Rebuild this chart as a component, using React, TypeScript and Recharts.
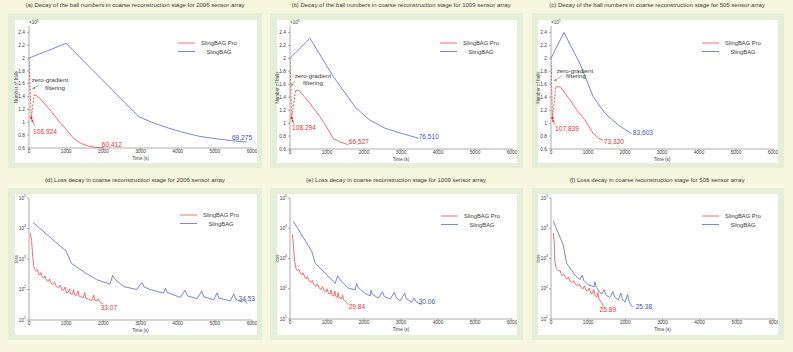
import { LineChart, Line, XAxis, YAxis, ReferenceDot, ReferenceLine } from 'recharts';

const W = 793;
const H = 352;
const FONT = '"Liberation Sans", Arial, Helvetica, sans-serif';
const BG = '#f7f7df';
const GREEN = '#e5eed7';
const RED = '#f15d5d';
const BLUE = '#6a7bc8';
const RED_TXT = '#e9343b';
const BLUE_TXT = '#4858a8';
const ARROW = '#a08866';
const AXIS = '#777';
const INK = '#3a3a3a';

const timeTicks = [0, 1000, 2000, 3000, 4000, 5000, 6000];
const ballTicks = [0.6, 0.8, 1, 1.2, 1.4, 1.6, 1.8, 2, 2.2, 2.4];
const lossTicks = [10, 100, 1000, 10000, 100000];

// ---- number of balls (x1e5) ----
// 2006 sensor array
const aInitT = [0, 60, 140];
const aInitV = [2.0, 1.07, 1.43];
const aProT = [140, 250, 400, 600, 800, 1000, 1200, 1400, 1600, 1800, 2000];
const aProV = [1.43, 1.4, 1.3, 1.17, 1.02, 0.89, 0.75, 0.67, 0.63, 0.61, 0.604];
const aBagT = [0, 1000, 2950, 3300, 3700, 4100, 4600, 5100, 5500, 5850];
const aBagV = [2.0, 2.23, 1.09, 1.0, 0.92, 0.85, 0.78, 0.74, 0.71, 0.693];

// 1009 sensor array
const bInitT = [0, 45, 150];
const bInitV = [2.0, 1.08, 1.5];
const bProT = [150, 230, 400, 600, 800, 1000, 1170, 1350, 1580];
const bProV = [1.5, 1.51, 1.4, 1.26, 1.11, 0.93, 0.76, 0.71, 0.665];
const bBagT = [0, 540, 1170, 1760, 2120, 2570, 3020, 3480];
const bBagV = [2.0, 2.31, 1.72, 1.25, 1.06, 0.92, 0.84, 0.765];

// 505 sensor array
const cInitT = [0, 40, 130];
const cInitV = [2.0, 1.08, 1.56];
const cProT = [130, 250, 500, 700, 900, 1000, 1140, 1280, 1410];
const cProV = [1.56, 1.56, 1.37, 1.2, 1.06, 0.97, 0.84, 0.77, 0.733];
const cBagT = [0, 350, 780, 1140, 1460, 1820, 2180];
const cBagV = [2.0, 2.4, 1.92, 1.41, 1.15, 0.97, 0.836];

// ---- loss ----
const dProT = [36, 70, 100, 130, 170, 200, 230, 260, 290, 320, 350, 400, 430, 470, 520, 550, 600, 650, 690, 740, 800, 840, 880, 930, 970, 1010, 1050, 1090, 1120, 1170, 1200, 1230, 1280, 1320, 1350, 1420, 1460, 1500, 1530, 1600, 1650, 1700, 1740, 1770, 1830, 1860, 1900, 1950, 2000];
const dProV = [7000, 4000, 1200, 560, 420, 390, 450, 330, 300, 360, 260, 240, 280, 200, 185, 220, 160, 145, 170, 125, 115, 140, 100, 95, 120, 80, 78, 105, 72, 70, 98, 66, 64, 90, 60, 56, 54, 80, 52, 48, 46, 44, 65, 45, 42, 50, 40, 36, 33.07];
const dBagT = [108, 1000, 1140, 1460, 1820, 2180, 2250, 2300, 2540, 2900, 3040, 3100, 3260, 3620, 3670, 3720, 4070, 4200, 4260, 4520, 4650, 4700, 4970, 5060, 5110, 5420, 5510, 5560, 5700, 5800, 5870];
const dBagV = [15800, 1800, 720, 390, 210, 150, 290, 230, 125, 100, 170, 120, 100, 76, 110, 80, 55, 95, 62, 50, 88, 58, 46, 78, 52, 42, 72, 48, 40, 44, 34.53];

const eProT = [63, 90, 120, 160, 200, 240, 280, 320, 350, 400, 440, 470, 520, 570, 600, 650, 700, 740, 790, 840, 880, 920, 970, 1000, 1040, 1080, 1110, 1140, 1180, 1210, 1240, 1280, 1300, 1330, 1390, 1420, 1450, 1500, 1550, 1580];
const eProV = [6300, 3000, 900, 480, 400, 440, 330, 290, 340, 240, 210, 250, 180, 160, 190, 135, 120, 145, 105, 95, 118, 85, 78, 100, 70, 66, 92, 60, 58, 85, 55, 52, 75, 50, 46, 62, 44, 38, 32, 29.84];
const eBagT = [90, 590, 680, 950, 1220, 1290, 1350, 1580, 1760, 1800, 1850, 2030, 2170, 2190, 2230, 2390, 2500, 2550, 2710, 2820, 2870, 2980, 3100, 3140, 3290, 3360, 3400, 3520, 3560];
const eBagV = [17000, 1700, 700, 325, 150, 270, 200, 104, 92, 150, 105, 71, 58, 92, 65, 49, 80, 55, 46, 76, 52, 40, 71, 48, 36, 50, 38, 31, 30.06];

const fProT = [63, 85, 100, 130, 170, 210, 240, 280, 320, 350, 400, 440, 470, 520, 570, 610, 660, 720, 760, 810, 860, 900, 940, 990, 1030, 1070, 1110, 1150, 1190, 1230, 1260, 1290, 1340, 1380, 1420];
const fProV = [6900, 4000, 900, 520, 430, 380, 420, 300, 270, 300, 230, 210, 240, 175, 160, 185, 140, 125, 145, 110, 100, 125, 90, 84, 105, 72, 68, 95, 58, 52, 75, 46, 38, 32, 25.89];
const fBagT = [63, 330, 420, 640, 780, 840, 880, 1000, 1160, 1180, 1220, 1360, 1430, 1470, 1580, 1670, 1710, 1810, 1880, 1920, 1990, 2060, 2100, 2170, 2200];
const fBagV = [17000, 2800, 700, 290, 200, 280, 190, 135, 117, 170, 110, 66, 92, 64, 51, 81, 54, 43, 71, 46, 36, 65, 38, 27, 25.38];

const pts = (t: number[], v: number[]) => t.map((x, i) => ({ t: x, v: v[i] }));

const textShape = (text: string, color: string, size: number) => (p: any) => (
  <text x={p.cx} y={p.cy} textAnchor="middle" dominantBaseline="central" fontSize={size} fill={color} fontFamily={FONT}>
    {text}
  </text>
);

const arrowShape = (color: string) => (p: any) => {
  const { x1, y1, x2, y2 } = p;
  const a = Math.atan2(y2 - y1, x2 - x1);
  const s = 3;
  const l = [x2 - s * Math.cos(a - 0.45), y2 - s * Math.sin(a - 0.45)];
  const r = [x2 - s * Math.cos(a + 0.45), y2 - s * Math.sin(a + 0.45)];
  return (
    <g>
      <line x1={x1} y1={y1} x2={x2} y2={y2} stroke={color} strokeWidth={0.7} />
      <path d={`M${x2},${y2}L${l[0]},${l[1]}L${r[0]},${r[1]}Z`} fill={color} />
    </g>
  );
};

const LogTick = (p: any) => {
  const e = Math.round(Math.log10(p.payload.value));
  return (
    <text x={p.x} y={p.y} textAnchor="end" dominantBaseline="central" fontSize={4.8} fill={INK} fontFamily={FONT}>
      10<tspan dy={-2.2} fontSize={3.4}>{e}</tspan>
    </text>
  );
};

const topG = { y: 13, h: 155 };
const topW = { y: 20, h: 143 };
const botG = { y: 188, h: 152 };
const botW = { y: 194, h: 141 };

const panels = [
  {
    title: '(a) Decay of the ball numbers in coarse reconstruction stage for 2006 sensor array',
    kind: 'balls', titleX: 135,
    green: { x: 8, w: 254, ...topG }, white: { x: 15, w: 242, ...topW }, plot: { l: 29, r: 252, t: 26, b: 148 },
    init: pts(aInitT, aInitV), pro: pts(aProT, aProV), bag: pts(aBagT, aBagV),
    legend: { x: 178, y: 43 }, dot: { x: 60, y: 1.07 },
    notes: [
      { x: 565, y: 1.66, text: 'zero-gradient', color: INK },
      { x: 700, y: 1.55, text: 'filtering', color: INK },
      { x: 430, y: 0.85, text: '106,924', color: RED_TXT },
      { x: 2230, y: 0.66, text: '60,412', color: RED_TXT },
      { x: 5730, y: 0.757, text: '69,275', color: BLUE_TXT },
    ],
    arrows: [
      { from: { x: 269, y: 1.58 }, to: { x: 90, y: 1.52 }, color: ARROW },
      { from: { x: 150, y: 0.95 }, to: { x: 70, y: 1.05 }, color: RED_TXT },
    ],
  },
  {
    title: '(b) Decay of the ball numbers in coarse reconstruction stage for 1009 sensor array',
    kind: 'balls', titleX: 401,
    green: { x: 270, w: 253, ...topG }, white: { x: 277, w: 240, ...topW }, plot: { l: 290, r: 512, t: 26, b: 149 },
    init: pts(bInitT, bInitV), pro: pts(bProT, bProV), bag: pts(bBagT, bBagV),
    legend: { x: 440, y: 43 }, dot: { x: 45, y: 1.08 },
    notes: [
      { x: 620, y: 1.73, text: 'zero-gradient', color: INK },
      { x: 620, y: 1.62, text: 'filtering', color: INK },
      { x: 378, y: 0.93, text: '108,294', color: RED_TXT },
      { x: 1863, y: 0.72, text: '66,527', color: RED_TXT },
      { x: 3750, y: 0.79, text: '76,510', color: BLUE_TXT },
    ],
    arrows: [
      { from: { x: 135, y: 1.65 }, to: { x: 27, y: 1.57 }, color: ARROW },
      { from: { x: 110, y: 0.98 }, to: { x: 50, y: 1.06 }, color: RED_TXT },
    ],
  },
  {
    title: '(c) Decay of the ball numbers in coarse reconstruction stage for 505 sensor array',
    kind: 'balls', titleX: 657,
    green: { x: 532, w: 252, ...topG }, white: { x: 538, w: 240, ...topW }, plot: { l: 551, r: 773, t: 26, b: 149 },
    init: pts(cInitT, cInitV), pro: pts(cProT, cProV), bag: pts(cBagT, cBagV),
    legend: { x: 702, y: 43 }, dot: { x: 40, y: 1.08 },
    notes: [
      { x: 648, y: 1.82, text: 'zero-gradient', color: INK },
      { x: 675, y: 1.73, text: 'filtering', color: INK },
      { x: 432, y: 0.91, text: '107,839', color: RED_TXT },
      { x: 1700, y: 0.71, text: '73,320', color: RED_TXT },
      { x: 2484, y: 0.85, text: '83,603', color: BLUE_TXT },
    ],
    arrows: [
      { from: { x: 297, y: 1.73 }, to: { x: 81, y: 1.65 }, color: ARROW },
      { from: { x: 100, y: 0.98 }, to: { x: 40, y: 1.06 }, color: RED_TXT },
    ],
  },
  {
    title: '(d) Loss decay in coarse reconstruction stage for 2006 sensor array',
    kind: 'loss', titleX: 135,
    green: { x: 8, w: 254, ...botG }, white: { x: 15, w: 242, ...botW }, plot: { l: 29, r: 252, t: 198, b: 320 },
    pro: pts(dProT, dProV), bag: pts(dBagT, dBagV),
    legend: { x: 180, y: 215 },
    notes: [
      { x: 2150, y: 25, text: '33.07', color: RED_TXT },
      { x: 5860, y: 50, text: '34.53', color: BLUE_TXT },
    ],
    arrows: [],
  },
  {
    title: '(e) Loss decay in coarse reconstruction stage for 1009 sensor array',
    kind: 'loss', titleX: 396,
    green: { x: 270, w: 253, ...botG }, white: { x: 277, w: 240, ...botW }, plot: { l: 290, r: 512, t: 198, b: 319 },
    pro: pts(eProT, eProV), bag: pts(eBagT, eBagV),
    legend: { x: 441, y: 216 },
    notes: [
      { x: 1810, y: 25, text: '29.84', color: RED_TXT },
      { x: 3700, y: 37, text: '30.06', color: BLUE_TXT },
    ],
    arrows: [],
  },
  {
    title: '(f) Loss decay in coarse reconstruction stage for 505 sensor array',
    kind: 'loss', titleX: 657,
    green: { x: 532, w: 252, ...botG }, white: { x: 538, w: 240, ...botW }, plot: { l: 551, r: 774, t: 198, b: 319 },
    pro: pts(fProT, fProV), bag: pts(fBagT, fBagV),
    legend: { x: 702, y: 216 },
    notes: [
      { x: 1530, y: 20, text: '25.89', color: RED_TXT },
      { x: 2500, y: 25, text: '25.38', color: BLUE_TXT },
    ],
    arrows: [],
  },
];

function Panel({ cfg }: { cfg: any }) {
  const { green, white, plot, legend } = cfg;
  const isLoss = cfg.kind === 'loss';
  const margin = { top: plot.t - white.y, right: white.x + white.w - plot.r, left: 0, bottom: 0 };
  const yW = plot.l - white.x;
  const xH = white.y + white.h - plot.b;
  const tickStyle = { fontSize: 4.8, fill: INK, fontFamily: FONT };
  const midY = (plot.t + plot.b) / 2;
  return (
    <>
      <div style={{ position: 'absolute', left: green.x, top: green.y, width: green.w, height: green.h, background: GREEN }} />
      <div style={{ position: 'absolute', left: white.x, top: white.y, width: white.w, height: white.h, background: '#fff' }}>
        <LineChart width={white.w} height={white.h} margin={margin}>
          <XAxis
            type="number"
            dataKey="t"
            domain={[0, 6000]}
            ticks={timeTicks}
            interval={0}
            allowDataOverflow
            height={xH}
            stroke={AXIS}
            strokeWidth={0.6}
            tickSize={2}
            tickMargin={0}
            tick={tickStyle}
          />
          {isLoss ? (
            <YAxis
              type="number"
              scale="log"
              domain={[10, 100000]}
              ticks={lossTicks}
              interval={0}
              allowDataOverflow
              width={yW}
              stroke={AXIS}
              strokeWidth={0.6}
              tickSize={2}
              tickMargin={1}
              tick={<LogTick />}
            />
          ) : (
            <YAxis
              type="number"
              domain={[0.6, 2.5]}
              ticks={ballTicks}
              interval={0}
              allowDataOverflow
              width={yW}
              stroke={AXIS}
              strokeWidth={0.6}
              tickSize={2}
              tickMargin={2}
              tick={tickStyle}
            />
          )}
          <Line data={cfg.bag} dataKey="v" type="linear" stroke={BLUE} strokeWidth={0.9} dot={false} activeDot={false} isAnimationActive={false} />
          {cfg.init && (
            <Line data={cfg.init} dataKey="v" type="linear" stroke={RED} strokeWidth={1} strokeDasharray="2 1.4" dot={false} activeDot={false} isAnimationActive={false} />
          )}
          <Line data={cfg.pro} dataKey="v" type="linear" stroke={RED} strokeWidth={0.9} dot={false} activeDot={false} isAnimationActive={false} />
          {cfg.arrows.map((a: any, i: number) => (
            <ReferenceLine key={`ar${i}`} segment={[a.from, a.to]} shape={arrowShape(a.color)} />
          ))}
          {cfg.dot && <ReferenceDot x={cfg.dot.x} y={cfg.dot.y} r={1.3} fill={RED_TXT} stroke="none" />}
          {cfg.notes.map((n: any, i: number) => (
            <ReferenceDot
              key={`n${i}`}
              x={n.x}
              y={n.y}
              r={0}
              shape={textShape(n.text, n.color, n.color === INK ? 6.2 : 6.6)}
            />
          ))}
        </LineChart>
      </div>
      <svg
        width={W}
        height={H}
        style={{ position: 'absolute', left: 0, top: 0, pointerEvents: 'none', overflow: 'visible' }}
        fontFamily={FONT}
      >
        <text x={cfg.titleX} y={green.y - 6} textAnchor="middle" fontSize={6} fill={INK}>
          {cfg.title}
        </text>
        <line x1={legend.x} y1={legend.y} x2={legend.x + 17} y2={legend.y} stroke={RED} strokeWidth={0.9} />
        <line x1={legend.x} y1={legend.y + 8.5} x2={legend.x + 17} y2={legend.y + 8.5} stroke={BLUE} strokeWidth={0.9} />
        <text x={legend.x + 41} y={legend.y} textAnchor="middle" dominantBaseline="central" fontSize={5.8} fill={INK}>
          SlingBAG Pro
        </text>
        <text x={legend.x + 41} y={legend.y + 8.5} textAnchor="middle" dominantBaseline="central" fontSize={5.8} fill={INK}>
          SlingBAG
        </text>
        <text
          x={plot.l - 13}
          y={midY}
          transform={`rotate(-90 ${plot.l - 13} ${midY})`}
          textAnchor="middle"
          dominantBaseline="central"
          fontSize={4.6}
          fill={INK}
        >
          {isLoss ? 'loss' : 'Number of balls'}
        </text>
        <text x={(plot.l + plot.r) / 2} y={plot.b + 12} textAnchor="middle" fontSize={4.6} fill={INK}>
          Time (s)
        </text>
        {!isLoss && (
          <text x={plot.l} y={plot.t - 2} fontSize={4.6} fill={INK}>
            ×10<tspan dy={-2} fontSize={3.4}>5</tspan>
          </text>
        )}
      </svg>
    </>
  );
}

export default function App() {
  return (
    <div style={{ position: 'absolute', left: 0, top: 0, width: W, height: H, background: BG, overflow: 'hidden', fontFamily: FONT }}>
      {panels.map((p) => (
        <Panel key={p.title} cfg={p} />
      ))}
    </div>
  );
}
